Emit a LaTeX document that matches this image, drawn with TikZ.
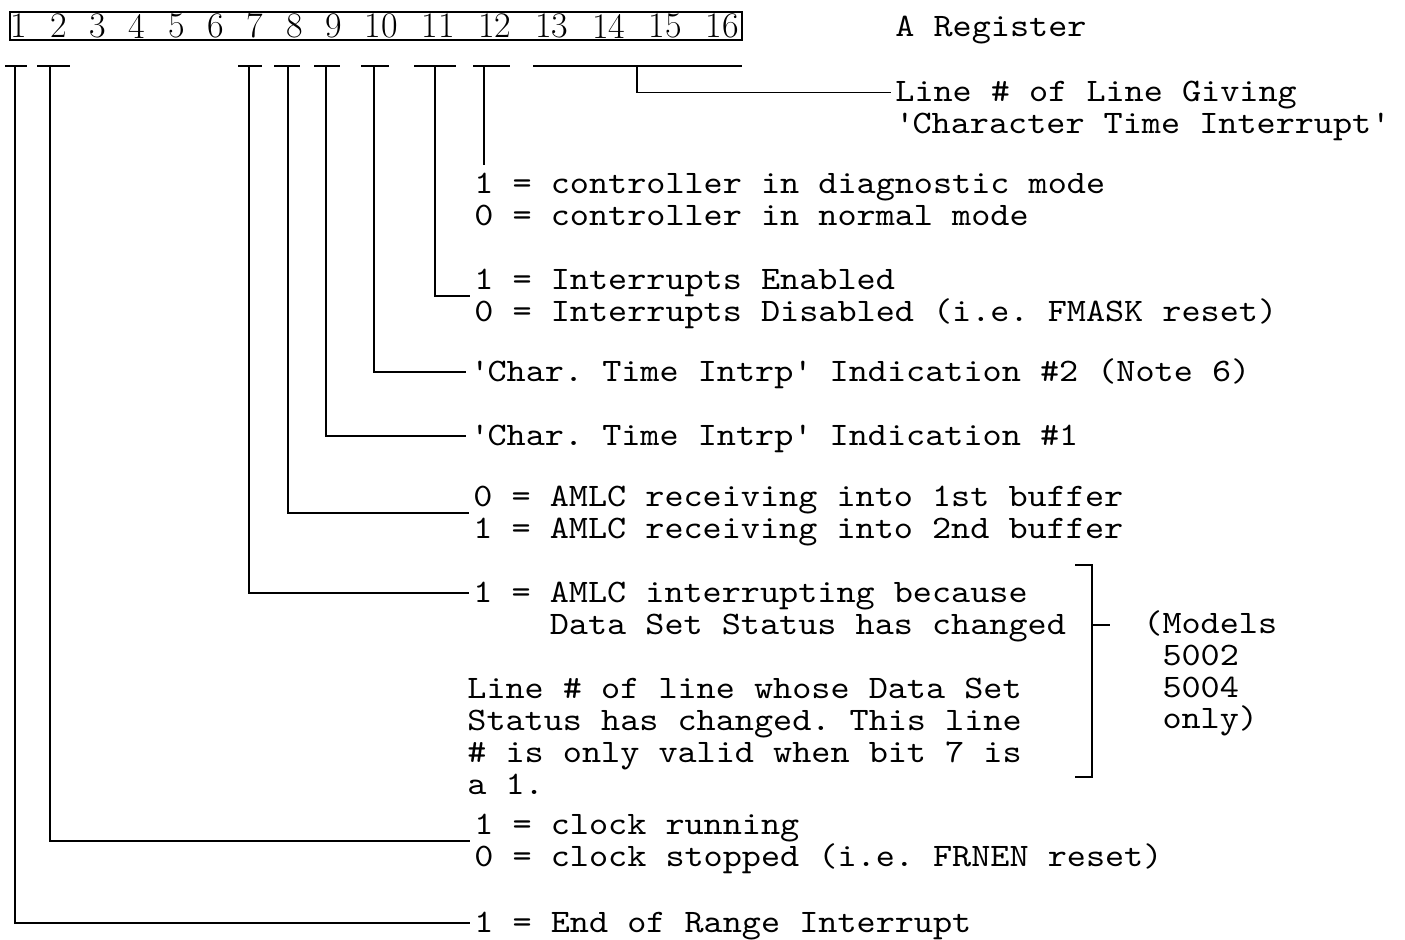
\documentclass[tikz,border=0pt]{standalone}
\usepackage{fontspec}
\usepackage{tikz}
\usetikzlibrary{positioning}
\newfontfamily\typw{lmmono10-regular.otf}[FakeStretch=1.11]

\begin{document}
\begin{tikzpicture}[x=0.5pt, y=-0.5pt, node distance=11pt,
        digit/.style = {inner sep=0pt, font=\fontsize{18}{20}\selectfont},
        txt/.style = {inner sep=0pt, anchor=base west, text height=12.5pt, text depth=3pt, font=\typw\fontsize{16.4}{15.5}\selectfont\frenchspacing},
        wire/.style = {line width=0.9pt, shorten >=2pt},
        bar/.style = {line width=1.3pt}]
        \useasboundingbox (0,0) rectangle (1405,940);

        \node[digit] (n1) at (19,26) {1};
        \node[digit] (n2) [right=of n1] {2};
        \node[digit] (n3) [right=of n2] {3};
        \node[digit] (n4) [right=of n3] {4};
        \node[digit] (n5) [right=of n4] {5};
        \node[digit] (n6) [right=of n5] {6};
        \node[digit] (n7) [right=of n6] {7};
        \node[digit] (n8) [right=of n7] {8};
        \node[digit] (n9) [right=of n8] {9};
        \node[digit] (n10) [right=of n9] {10};
        \node[digit] (n11) [right=11.5pt of n10] {11};
        \node[digit] (n12) [right=11.5pt of n11] {12};
        \node[digit] (n13) [right=11.5pt of n12] {13};
        \node[digit] (n14) [right=11.5pt of n13] {14};
        \node[digit] (n15) [right=11.5pt of n14] {15};
        \node[digit] (n16) [right=11.5pt of n15] {16};
        \draw[line width=0.8pt] (10,12) rectangle (742,40);

        \node[txt] (rega) at (895,37) {A Register};
        \node[txt] (l16a) at (895,102) {Line \# of Line Giving};
        \node[txt] (l16b) [below=0pt of l16a.south west, anchor=north west] {\textquotesingle Character Time Interrupt\textquotesingle};
        \node[txt] (c12a) at (474,194) {1 = controller in diagnostic mode};
        \node[txt] (c12b) [below=0pt of c12a.south west, anchor=north west] {0 = controller in normal mode};
        \node[txt] (c11a) at (474,290) {1 = Interrupts Enabled};
        \node[txt] (c11b) [below=0pt of c11a.south west, anchor=north west] {0 = Interrupts Disabled (i.e. FMASK reset)};
        \node[txt] (c10) at (470,381.5) {\textquotesingle Char. Time Intrp\textquotesingle\ Indication \#2 (Note 6)};
        \node[txt] (c9) at (470,445.5) {\textquotesingle Char. Time Intrp\textquotesingle\ Indication \#1};
        \node[txt] (c8a) at (473,507) {0 = AMLC receiving into 1st buffer};
        \node[txt] (c8b) [below=0pt of c8a.south west, anchor=north west] {1 = AMLC receiving into 2nd buffer};
        \node[txt] (c7a) at (473,602.5) {1 = AMLC interrupting because};
        \node[txt] (c7b) [below=0pt of c7a.south west, anchor=north west] {\phantom{1 = }Data Set Status has changed};
        \node[txt] (s1) at (467,699) {Line \# of line whose Data Set};
        \node[txt] (s2) [below=0pt of s1.south west, anchor=north west] {Status has changed. This line};
        \node[txt] (s3) [below=0pt of s2.south west, anchor=north west] {\# is only valid when bit 7 is};
        \node[txt] (s4) [below=0pt of s3.south west, anchor=north west] {a 1.};
        \node[txt] (m1) at (1143,633.5) {(Models};
        \node[txt] (m2) [below=0pt of m1.south west, anchor=north west] {\phantom{(}5002};
        \node[txt] (m3) [below=0pt of m2.south west, anchor=north west] {\phantom{(}5004};
        \node[txt] (m4) [below=0pt of m3.south west, anchor=north west] {\phantom{(}only)};
        \node[txt] (c2a) at (474,835) {1 = clock running};
        \node[txt] (c2b) [below=0pt of c2a.south west, anchor=north west] {0 = clock stopped (i.e. FRNEN reset)};
        \node[txt] (c1) at (474,932.5) {1 = End of Range Interrupt};

        \coordinate (b1) at (15,66);
        \coordinate (b2) at (50,66);
        \coordinate (b7) at (249,66);
        \coordinate (b8) at (288,66);
        \coordinate (b9) at (326,66);
        \coordinate (b10) at (374,66);
        \coordinate (b11) at (435,66);
        \coordinate (b12) at (484,66);
        \coordinate (b16) at (637,66);

        \draw[bar] (5,66) -- (27,66);
        \draw[bar] (37,66) -- (70,66);
        \draw[bar] (238,66) -- (262,66);
        \draw[bar] (274,66) -- (300,66);
        \draw[bar] (314,66) -- (340,66);
        \draw[bar] (361,66) -- (389,66);
        \draw[bar] (414,66) -- (456,66);
        \draw[bar] (473,66) -- (510,66);
        \draw[bar] (533,66) -- (742,66);

        \draw[wire] (b16) |- (l16a.west);
        \draw[wire] (b12) -- (b12 |- c12a.north);
        \draw[wire] (b11) |- (c11a.south west);
        \draw[wire] (b10) |- (c10.west);
        \draw[wire] (b9) |- (c9.west);
        \draw[wire] (b8) |- (c8a.south west);
        \draw[wire] (b7) |- (c7a.west);
        \draw[wire] (b2) |- (c2a.south west);
        \draw[wire] (b1) |- (c1.west);

        \draw[line width=0.9pt] (1075,565) -- (1092,565) -- (1092,777) -- (1075,777);
        \draw[line width=0.9pt] (1092,625) -- (1110,625);
\end{tikzpicture}
\end{document}
